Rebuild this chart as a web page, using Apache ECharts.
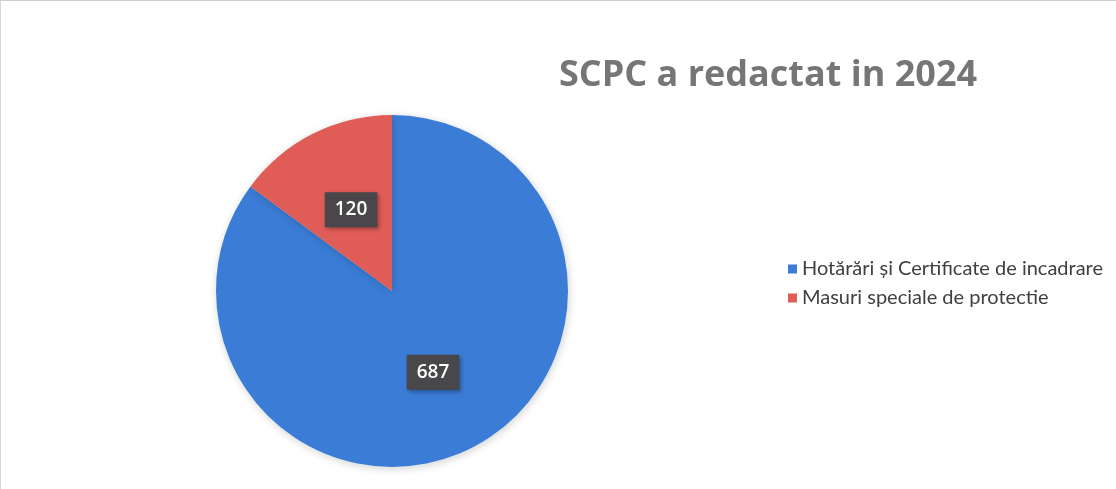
<!DOCTYPE html>
<html>
<head>
<meta charset="utf-8">
<script src="https://cdn.jsdelivr.net/npm/echarts@6/dist/echarts.min.js"></script>
<style>
  html, body { margin: 0; padding: 0; background: #fff; }
  #chart { width: 1116px; height: 489px; box-sizing: border-box; border-top: 1px solid #cfcfcf; border-left: 1px solid #d8d8d8; }
</style>
</head>
<body>
<div id="chart"></div>
<script>
const categories = ['Hotărări și Certificate de incadrare', 'Masuri speciale de protectie']
const values = [687, 120]
const colors = ['#3b7dd6', '#e05c57']

const chart = echarts.init(document.getElementById('chart'))

let options = {
  color: colors,
  title: {
    text: 'SCPC a redactat in 2024',
    left: 762,
    top: 52,
    textAlign: 'center',
    textStyle: {
      fontFamily: 'Open Sans',
      fontWeight: 'bold',
      fontSize: 36,
      color: '#767676'
    }
  },
  legend: {
    orient: 'vertical',
    left: 782,
    top: 253,
    icon: 'rect',
    itemWidth: 9,
    itemHeight: 9,
    itemGap: 9,
    data: categories,
    textStyle: {
      fontFamily: 'Lato',
      fontSize: 20,
      color: '#404040'
    }
  },
  series: [
    {
      type: 'pie',
      center: [391, 290],
      radius: 176,
      startAngle: 90,
      clockwise: true,
      label: {
        show: true,
        position: 'inside',
        formatter: '{c}',
        fontFamily: 'Open Sans',
        fontWeight: 600,
        fontSize: 19,
        color: '#ffffff',
        backgroundColor: '#4a474b',
        padding: [9, 10, 7, 10],
        shadowBlur: 4,
        shadowColor: 'rgba(0,0,0,0.35)',
        shadowOffsetX: 2,
        shadowOffsetY: 2
      },
      labelLine: { show: false },
      itemStyle: {
        shadowBlur: 8,
        shadowColor: 'rgba(0,0,0,0.18)',
        shadowOffsetX: 1,
        shadowOffsetY: 2
      },
      emphasis: { disabled: true },
      data: categories.map((name, i) => ({ name: name, value: values[i] }))
    }
  ]
}
chart.setOption(options)
</script>
</body>
</html>
